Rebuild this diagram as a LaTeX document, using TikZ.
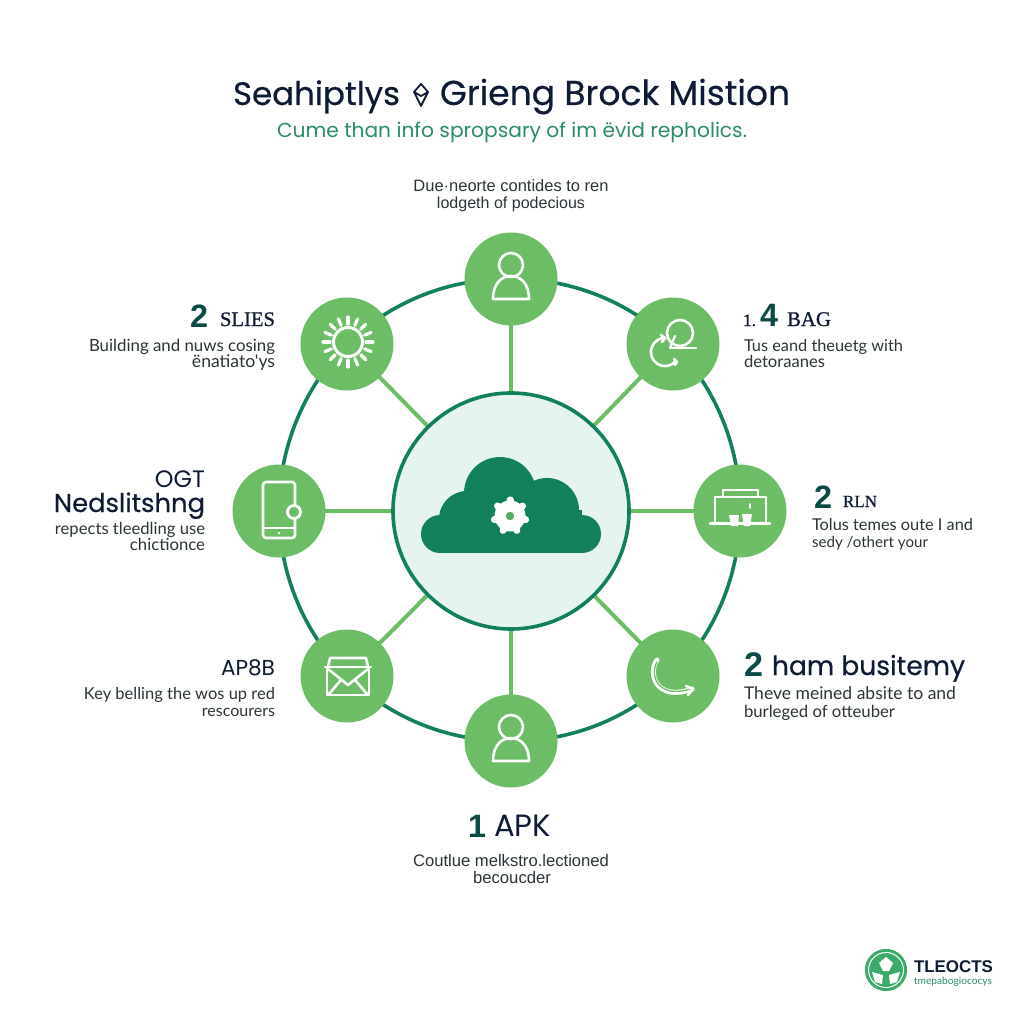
\documentclass[tikz,border=0pt]{standalone}
\usepackage{fontspec}
\usepackage{graphicx}
\usetikzlibrary{backgrounds}
\setmainfont{Liberation Sans}
\newfontfamily\popf{Poppins}
\newfontfamily\popm{Poppins}[FakeBold=0.45]
\newfontfamily\latof{Lato}
\newfontfamily\serf{Liberation Serif}[FakeBold=0.9]
\definecolor{darkg}{HTML}{12805C}
\definecolor{midg}{HTML}{6CBD66}
\definecolor{pale}{HTML}{E6F4F0}
\definecolor{navy}{HTML}{0E1B34}
\definecolor{teal}{HTML}{0B4A45}
\definecolor{subg}{HTML}{2A8C6B}
\definecolor{bodyc}{HTML}{2B3538}
\definecolor{logog}{HTML}{3CAA6A}
\newcommand\tw[2]{\resizebox{#1pt}{!}{#2}}
\tikzset{
  sat/.style={circle,fill=midg,minimum size=93pt,inner sep=0,outer sep=0},
  hub/.style={circle,fill=pale,draw=darkg,line width=3.6pt,minimum size=236pt,inner sep=0,outer sep=0},
  ringarc/.style={draw=darkg,line width=3.6pt,bend left=22.5,looseness=0.885},
  spoke/.style={draw=midg,line width=4pt},
  ico/.style={draw=white,line width=2.6pt,line cap=round,line join=round},
  txtw/.style={inner sep=0,outer sep=0,anchor=base west},
  txte/.style={inner sep=0,outer sep=0,anchor=base east},
  txtc/.style={inner sep=0,outer sep=0,anchor=base},
  body/.style={text=bodyc},
  head/.style={text=navy}
}
\begin{document}
\begin{tikzpicture}[x=1pt,y=-1pt]
\useasboundingbox (0,0) rectangle (1024,1024);
% nodes
\node[hub] (hubc) at (511,511) {};
\node[sat] (n1) at (511,279) {};
\node[sat] (n2) at (673,344) {};
\node[sat] (n3) at (740,511) {};
\node[sat] (n4) at (673,676) {};
\node[sat] (n5) at (511,741) {};
\node[sat] (n6) at (347,676) {};
\node[sat] (n7) at (279,511) {};
\node[sat] (n8) at (347,344) {};
% connectors
\begin{scope}[on background layer]
\fill[white] (0,0) rectangle (1024,1024);
\foreach \a/\b in {n1/n2,n2/n3,n3/n4,n4/n5,n5/n6,n6/n7,n7/n8,n8/n1}
  \draw[ringarc] (\a.center) to (\b.center);
\foreach \a in {n1,n2,n3,n4,n5,n6,n7,n8}
  \draw[spoke] (hubc.center) -- (\a.center);
\end{scope}
% cloud
\fill[darkg] (440,534) circle (19);
\fill[darkg] (467,519) circle (28);
\fill[darkg] (500,493) circle (36);
\fill[darkg] (547,510) circle (32);
\fill[darkg] (582,534) circle (19);
\fill[darkg] (440,510) rectangle (582,553);
\foreach \r in {0,51.4,...,360}
  \draw[white,line width=7pt,line cap=round,rotate around={\r:(510,516)}] (510,514) -- (510,500);
\fill[white] (510,516) circle (15.5);
\fill[midg!75!darkg] (510,516) circle (4.2);
% person top
\begin{scope}[shift={(511,279)}]
\draw[ico] (0,-14) circle (12);
\draw[ico] (-18,20) -- (18,20) .. controls (18,4) and (9,-3) .. (0,-3) .. controls (-9,-3) and (-18,4) .. (-18,20) -- cycle;
\end{scope}
% person bottom
\begin{scope}[shift={(511,741)}]
\draw[ico] (0,-14) circle (12);
\draw[ico] (-18,20) -- (18,20) .. controls (18,4) and (9,-3) .. (0,-3) .. controls (-9,-3) and (-18,4) .. (-18,20) -- cycle;
\end{scope}
% sun
\begin{scope}[shift={(348,342)}]
\draw[ico,line width=3pt] (0,0) circle (14.5);
\foreach \r in {0,22.5,...,337.5}
  \draw[ico,line width=3.2pt,rotate=\r] (18,0) -- (25,0);
\end{scope}
% swirl
\begin{scope}[shift={(673,344)}]
\draw[ico,line width=2.3pt] (-3,4) -- (23,4);
\draw[ico,line width=2.3pt] (-3,4) -- (2,-8);
\draw[ico] (7,-11) circle (13);
\draw[ico] plot[smooth,samples=30,domain=270:40] ({-8+14*cos(\x)},{8+14*sin(\x)});
\draw[ico] (-12,-9) -- (-8,-6) -- (-11,-2);
\draw[ico] (1,15) -- (4,18) -- (2,21);
\end{scope}
% monitor
\begin{scope}[shift={(740,511)}]
\draw[ico] (-25,12) -- (-25,-14) -- (26,-14) -- (26,12);
\draw[ico] (-17,-14) -- (-17,-21) -- (18,-21) -- (18,-14);
\draw[ico] (-30,12.5) -- (30,12.5);
\draw[ico,line width=1.6pt] (10,-7) -- (10,-3);
\fill[white] (-11,4) -- (-1,4) -- (-2,15) -- (-9,15) -- cycle;
\fill[white] (2,3) -- (12,3) -- (10,15) -- (4,15) -- cycle;
\end{scope}
% phone
\begin{scope}[shift={(279,511)}]
\draw[ico,rounded corners=3pt] (-16,-29) rectangle (16,27);
\draw[ico] (-16,17) -- (16,17);
\fill[white] (0,22) circle (1.5);
\draw[white,fill=midg,line width=2.8pt] (15,1) circle (6.5);
\end{scope}
% mail
\begin{scope}[shift={(347,676)}]
\draw[ico] (-20,-9) rectangle (22,19);
\draw[ico] (-22,-9) -- (24,-9);
\draw[ico] (-19,-9) -- (-17,-18) -- (19,-18) -- (21,-9);
\draw[ico] (-19,-7) -- (1,9) -- (21,-7);
\draw[ico] (-19,19) -- (-6,4) (21,19) -- (8,4);
\end{scope}
% handset
\begin{scope}[shift={(673,676)}]
\path[draw=white,line width=5pt,line cap=round] (-16,-16) .. controls (-26,-2) and (-16,26) .. (19,13);
\path[draw=midg,line width=1.3pt,line cap=round] (-16,-14) .. controls (-24,0) and (-14,23) .. (17,13);
\draw[ico] (13,10) -- (20,13) -- (15,19);
\end{scope}
% title
\node[txtw,head] (t1) at (233,105) {\tw{167}{\popm Seahiptlys}};
\node[txtw,head] (t2) at (440,105) {\tw{350}{\popm Grieng Brock Mistion}};
\draw[navy,line width=1.8pt,line join=round] (414,92) -- (421,84) -- (428,92) -- (421,106) -- cycle (414,92) -- (421,96) -- (428,92);
\node[txtw,text=subg] (st) at (277,138) {\tw{470}{\popf\addfontfeature{Color=2A8C6B} Cume than info spropsary of im ëvid repholics.}};
% top text
\node[txtc,body] (a1) at (511,192) {\tw{195}{Due·neorte contides to ren}};
\node[txtc,body] (a2) at (511,209) {\tw{148}{lodgeth of podecious}};
% upper left
\node[txtw,text=teal] (b0) at (190,327) {\tw{18}{\bfseries 2}};
\node[txte,head] (b1) at (275,326) {\tw{55}{\serf SLIES}};
\node[txte,body] (b2) at (275,351) {\tw{186}{\latof Building and nuws cosing}};
\node[txte,body] (b3) at (275,367) {\tw{83}{\latof ënatiato'ys}};
% upper right
\node[txtw,head] (c0) at (743,326) {\tw{13}{\serf 1.}};
\node[txtw,text=teal] (c1) at (760,326) {\tw{18}{\bfseries 4}};
\node[txtw,head] (c2) at (787,326) {\tw{44}{\serf BAG}};
\node[txtw,body] (c3) at (744,351) {\tw{159}{\latof Tus eand theuetg with}};
\node[txtw,body] (c4) at (744,367) {\tw{81}{\latof detoraanes}};
% left
\node[txte,head] (d0) at (205,487) {\tw{50}{\popf OGT}};
\node[txte,head] (d1) at (205,512) {\tw{151}{\popm Nedslitshng}};
\node[txte,body] (d2) at (205,534) {\tw{150}{\latof repects tleedling use}};
\node[txte,body] (d3) at (205,550) {\tw{75}{\latof chictionce}};
% right
\node[txtw,text=teal] (e0) at (814,508) {\tw{18}{\bfseries 2}};
\node[txtw,head] (e1) at (843,507) {\tw{34}{\serf RLN}};
\node[txtw,body] (e2) at (812,530) {\tw{161}{\latof Tolus temes oute I and}};
\node[txtw,body] (e3) at (812,547) {\tw{116}{\latof sedy /othert your}};
% lower left
\node[txte,head] (f0) at (275,675) {\tw{54}{\popf AP8B}};
\node[txte,body] (f1) at (275,699) {\tw{191}{\latof Key belling the wos up red}};
\node[txte,body] (f2) at (275,716) {\tw{73}{\latof rescourers}};
% lower right
\node[txtw,text=teal] (g0) at (744,676) {\tw{19}{\bfseries 2}};
\node[txtw,head] (g1) at (772,675) {\tw{193}{\popm ham busitemy}};
\node[txtw,body] (g2) at (744,699) {\tw{212}{\latof Theve meined absite to and}};
\node[txtw,body] (g3) at (744,717) {\tw{151}{\latof burleged of otteuber}};
% bottom
\node[txtw,text=teal] (h0) at (468,837) {\tw{18}{\bfseries 1}};
\node[txtw,head] (h1) at (494,836) {\tw{57}{\popf APK}};
\node[txtc,body] (h2) at (511,866) {\tw{196}{Coutlue melkstro.lectioned}};
\node[txtc,body] (h3) at (512,883) {\tw{78}{becoucder}};
% logo
\draw[draw=logog,line width=2.2pt,fill=logog] (886,970) circle (20);
\draw[white,line width=1pt] (886,970) circle (17.5);
\fill[white] (886,957) -- (893,963) -- (889,971) -- (883,971) -- (879,963) -- cycle;
\fill[white] (872,972) -- (883,975) -- (882,984) -- (875,982) -- cycle;
\fill[white] (900,972) -- (889,975) -- (890,984) -- (897,982) -- cycle;
\node[txtw,head] (l1) at (914,972) {\tw{79}{\bfseries TLEOCTS}};
\node[txtw,text=subg] (l2) at (914,984) {\tw{78}{\latof tmepabogiococys}};
\end{tikzpicture}
\end{document}
